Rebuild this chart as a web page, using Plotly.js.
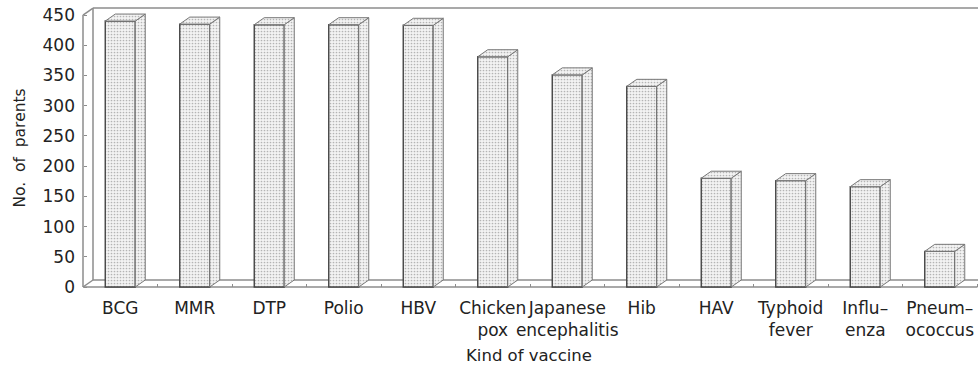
<!DOCTYPE html>
<html>
<head>
<meta charset="utf-8">
<script src="https://cdn.plot.ly/plotly-3.0.1.min.js"></script>
<style>html,body{margin:0;padding:0;background:#fff;} #chart{width:978px;height:365px;}</style>
</head>
<body>
<div id="chart"></div>
<script>
// ---- data ----
const categories = ['BCG','MMR','DTP','Polio','HBV','Chicken<br>pox','Japanese<br>encephalitis','Hib','HAV','Typhoid<br>fever','Influ–<br>enza','Pneum–<br>ococcus'];
const parents = [440, 435, 434, 434, 433, 381, 351, 332, 180, 176, 166, 59];
const yTicks = [0, 50, 100, 150, 200, 250, 300, 350, 400, 450];

// ---- geometry (pixel-based depth converted to data units) ----
const PX_X = 74.5;           // px per category
const PX_Y = 0.6044;         // px per unit value
const DX = 10 / PX_X;        // depth offset in x
const DY = 7 / PX_Y;         // depth offset in y
const BW = 30 / PX_X;        // bar width
const YMAX = 450;
const xIdx = categories.map((_, i) => i);
const xLo = -0.5, xHi = categories.length - 0.5;

const pattern = {shape: '.', fgcolor: '#b4b4b4', bgcolor: '#f3f3f3', size: 3, solidity: 0.25};

// side & top faces computed from values
const sideX = [], sideY = [], topX = [], topY = [];
parents.forEach((v, i) => {
  const r = i + BW / 2, l = i - BW / 2;
  sideX.push(r, r + DX, r + DX, r, r, null);
  sideY.push(0, DY, v + DY, v, 0, null);
  topX.push(l, l + DX, r + DX, r, l, null);
  topY.push(v, v + DY, v + DY, v, v, null);
});

const traces = [
  {type: 'scatter', mode: 'lines', x: sideX, y: sideY, fill: 'toself', fillcolor: '#ffffff',
   fillpattern: pattern, line: {color: '#777', width: 1}, hoverinfo: 'skip', showlegend: false},
  {type: 'scatter', mode: 'lines', x: topX, y: topY, fill: 'toself', fillcolor: '#ffffff',
   fillpattern: pattern, line: {color: '#777', width: 1}, hoverinfo: 'skip', showlegend: false},
  {type: 'bar', x: xIdx, y: parents, width: BW,
   marker: {color: '#ffffff', pattern: pattern, line: {color: '#444', width: 1.4}},
   showlegend: false}
];

// frame (walls & floor)
const frameColor = '#8c8c8c';
const seg = (x0, y0, x1, y1) => ({type: 'line', xref: 'x', yref: 'y', x0, y0, x1, y1,
  layer: 'below', line: {color: frameColor, width: 1.5}});
const shapes = [
  seg(xLo, 0, xLo, YMAX),                       // front y axis
  seg(xLo, YMAX, xLo + DX, YMAX + DY),          // top-left diagonal
  seg(xLo + DX, DY, xLo + DX, YMAX + DY),       // back wall left edge
  seg(xLo + DX, YMAX + DY, xHi + DX + 1, YMAX + DY), // back wall top
  seg(xLo, 0, xHi, 0),                          // floor front
  seg(xLo + DX, DY, xHi + DX + 1, DY),          // floor back
  seg(xLo, 0, xLo + DX, DY),                    // floor left diagonal
  seg(xHi, 0, xHi + DX, DY)                     // floor right diagonal
];

// plot area: left edge 80px, right 978px, top 6px, bottom 290px
const L = 80, R = 978, T = 6, B = 290;
const x0r = xLo - (83 - L) / PX_X;
const xRange = [x0r, x0r + (R - L) / PX_X];
const y0r = -(B - 287) / PX_Y;
const yRange = [y0r, y0r + (B - T) / PX_Y];

const font = {family: 'DejaVu Sans, sans-serif', size: 17, color: '#222'};
const layout = {
  width: 978, height: 365,
  margin: {l: L, r: 978 - R, t: T, b: 365 - B, pad: 0},
  paper_bgcolor: '#fff', plot_bgcolor: 'rgba(0,0,0,0)',
  font: font,
  bargap: 0,
  xaxis: {range: xRange, tickmode: 'array', tickvals: xIdx, ticktext: categories,
    showgrid: false, zeroline: false, showline: false, ticks: '', tickangle: 0,
    anchor: 'free', position: 3 / (B - T),
    minor: {tickmode: 'array', tickvals: xIdx.map(i => i + 0.5), ticks: 'inside', ticklen: 3, tickcolor: frameColor, showgrid: false},
    tickfont: font, ticklabelstandoff: 9,
    title: {text: 'Kind of vaccine', font: {family: font.family, size: 16.5, color: '#222'}, standoff: 12}},
  yaxis: {range: yRange, tickmode: 'array', tickvals: yTicks,
    showgrid: false, zeroline: false, showline: false,
    anchor: 'free', position: 3 / (R - L),
    ticks: 'inside', ticklen: 3, tickcolor: frameColor,
    tickfont: font, ticklabelstandoff: 8,
    title: {text: 'No.  of  parents', font: {family: font.family, size: 15.5, color: '#222'}, standoff: 12}},
  shapes: shapes
};

Plotly.newPlot('chart', traces, layout, {displayModeBar: false, staticPlot: true});
</script>
</body>
</html>
